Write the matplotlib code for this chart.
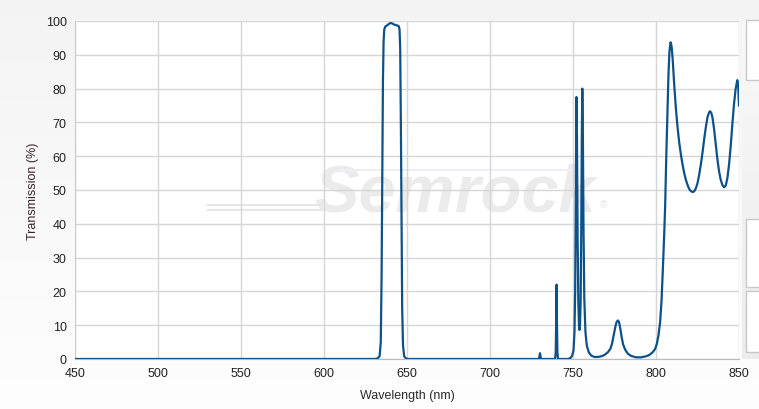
import numpy as np
import matplotlib.pyplot as plt
from matplotlib.patches import Rectangle

# Transmission spectrum
wavelength = [450, 630, 632, 633.5, 634.2, 634.7, 635.1, 635.5, 635.9, 636.3, 637, 638, 639, 640, 641, 642,
              643, 644, 645, 645.5, 645.9, 646.3, 646.7, 647.1, 647.6, 648.3, 649.5, 651,
              729, 729.6, 730.1, 730.6, 731.2,
              739.2, 739.6, 739.9, 740.1, 740.3, 740.6, 741,
              747, 748.5, 749.5, 750.3, 750.9, 751.3, 751.7, 752.1, 752.4, 752.8, 753.2, 753.6, 753.9,
              754.2, 754.6, 755, 755.3, 755.6, 755.9, 756.3, 756.8, 757.5, 758.3, 759.5, 761, 763, 765,
              767, 769, 771, 772.5, 773.5, 774.5, 775.5, 776.3, 777, 777.7, 778.5, 779.3, 780.2, 781.5,
              783, 785, 788, 791, 794, 796, 798, 799.5, 800.5, 801.5, 802.5, 803.3, 804, 804.8, 805.5,
              806.2, 806.9, 807.5, 808.1, 808.8, 809.4, 810, 811, 812, 813, 814, 815, 816, 817, 818,
              819, 820, 821, 822, 823, 824, 825, 826, 827, 828, 829, 830, 831, 832, 832.6, 833.3, 834,
              835, 836, 837, 838, 839, 840, 841, 842, 843, 844, 845, 846, 847, 848, 849, 849.5, 850]
transmission = [0, 0, 0.1, 0.8, 5, 25, 55, 82, 94, 97.5, 98.4, 98.7, 99.1, 99.4, 99.3, 99.0,
                98.8, 98.7, 98.5, 97.5, 92, 70, 40, 15, 4, 0.8, 0.1, 0,
                0, 0.3, 1.7, 0.3, 0,
                0, 2, 12, 22, 12, 2, 0,
                0, 0.3, 1, 2.5, 8, 20, 50, 77.5, 65, 35, 17, 10, 8.6,
                10, 17, 40, 65, 80, 70, 40, 18, 8, 4, 2, 1, 0.6, 0.6,
                0.8, 1.2, 2, 3, 4.5, 7, 9.5, 11, 11.4, 11, 9, 6.5, 4.3, 2.7,
                1.6, 0.9, 0.5, 0.5, 0.8, 1.2, 2, 3, 4.5, 7, 11, 17, 25, 35, 45,
                60, 73, 84, 91, 93.7, 92.5, 89, 81, 74, 68.5, 64, 60.5, 57.5, 55, 53,
                51.5, 50.3, 49.7, 49.4, 49.6, 50.5, 52, 54.5, 57.5, 61, 65, 68.5, 71.5, 73, 73.3, 72.8, 71.5,
                68, 63.5, 59, 55.5, 53, 51.5, 50.8, 51.3, 53.5, 57.5, 63, 69.5, 75.5, 80, 82.5, 81, 75]

x_ticks = [450, 500, 550, 600, 650, 700, 750, 800, 850]
y_ticks = [0, 10, 20, 30, 40, 50, 60, 70, 80, 90, 100]

plt.rcParams['font.family'] = ['Liberation Sans', 'DejaVu Sans']

fig = plt.figure(figsize=(7.59, 4.10), dpi=100)
W, H = 759, 410


def vgrad(top_grey, bottom_grey):
    g = np.linspace(top_grey, bottom_grey, 256).reshape(-1, 1, 1)
    return np.repeat(g, 3, axis=2)


# light gradient background behind everything
bg = fig.add_axes([0, 0, 1, 1], zorder=-10)
bg.imshow(vgrad(0.955, 0.995), aspect='auto', extent=[0, 1, 0, 1])
bg.set_axis_off()

# side panel on the right
side = fig.add_axes([742 / W, (410 - 360) / H, 17 / W, 338 / H], zorder=-5)
side.imshow(vgrad(0.975, 0.925), aspect='auto', extent=[0, 1, 0, 1])
side.set_axis_off()
for top, bot in [(21, 81), (220, 288), (292, 353)]:
    fig.patches.append(Rectangle((745.5 / W, (410 - bot) / H), 20 / W, (bot - top) / H,
                                 transform=fig.transFigure, facecolor='white',
                                 edgecolor='#c8c8c8', lw=1, zorder=-4))

ax = fig.add_axes([75 / W, (410 - 360) / H, 664 / W, 338 / H])
ax.set_facecolor('white')

# watermark
ax.text(0.572, 0.49, 'Semrock', transform=ax.transAxes, fontsize=48, fontweight='bold',
        fontstyle='italic', color='#ebebeb', ha='center', va='center', zorder=0)
ax.text(0.79, 0.45, '®', transform=ax.transAxes, fontsize=7, color='#e6e6e6', zorder=0)
for yy in [0.455, 0.442]:
    ax.plot([0.2, 0.37], [yy, yy], transform=ax.transAxes, color='#e6e6e6', lw=1.5, zorder=0)
ax.plot([0.40, 0.75], [0.558, 0.558], transform=ax.transAxes, color='#f1ecf6', lw=1.5, zorder=0)

ax.plot(wavelength, transmission, color='#0d5189', lw=1.6, zorder=3)

ax.set_xlim(450, 850)
ax.set_ylim(0, 100)
ax.set_xticks(x_ticks)
ax.set_yticks(y_ticks)
ax.grid(True, color='#d6d6d6', lw=1)
ax.set_axisbelow(True)
ax.tick_params(length=0, labelsize=9, colors='#222222', pad=6)
for side_name in ['top', 'right']:
    ax.spines[side_name].set_visible(False)
ax.spines['left'].set_color('#cccccc')
ax.spines['bottom'].set_color('#bbbbbb')

ax.set_xlabel('Wavelength (nm)', fontsize=9, color='#2a2a2a', labelpad=7)
ax.set_ylabel('Transmission (%)', fontsize=9, color='#3a2230', labelpad=5)

plt.savefig('out.png', dpi=100)
